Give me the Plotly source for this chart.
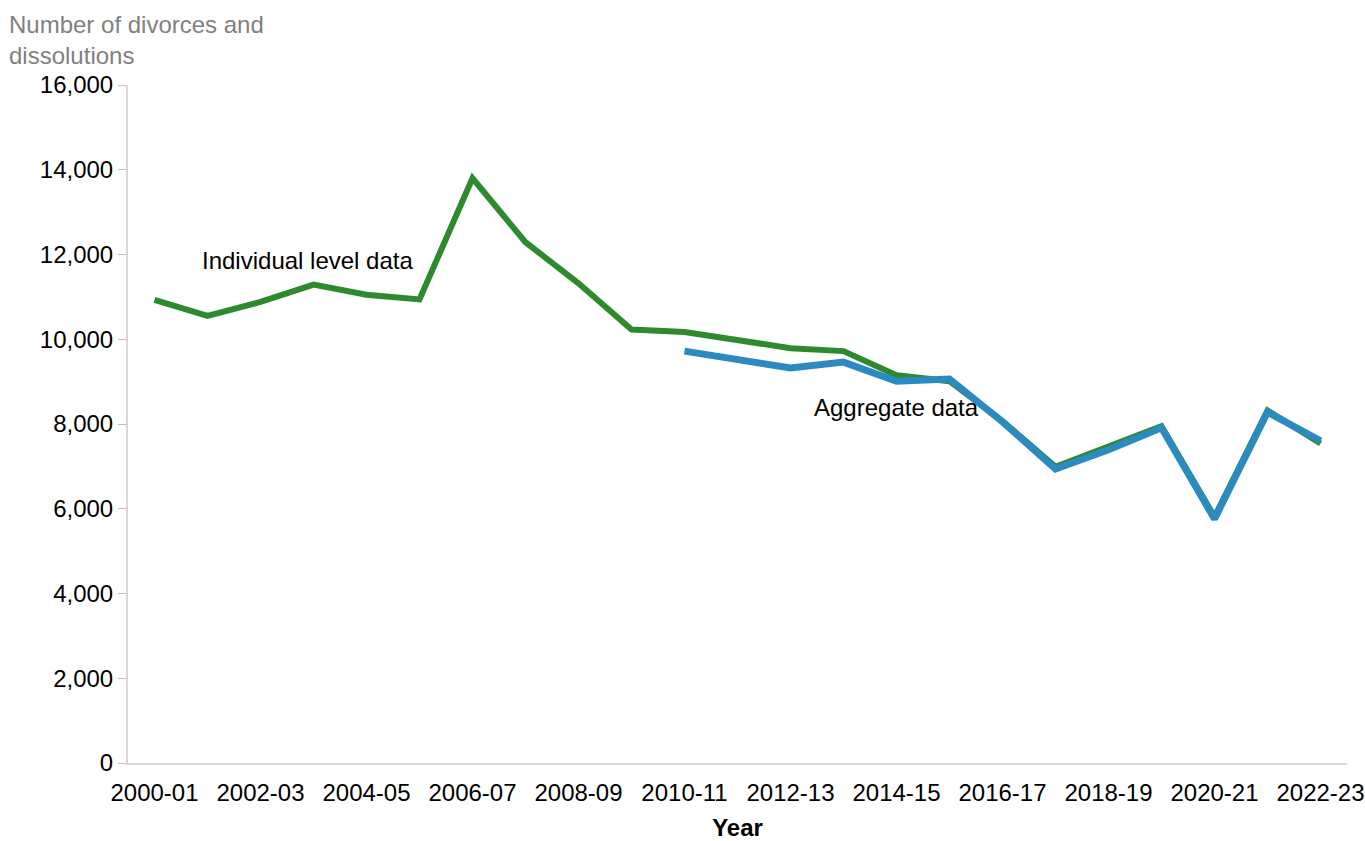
import plotly.graph_objects as go

years = ["2000-01", "2001-02", "2002-03", "2003-04", "2004-05", "2005-06",
         "2006-07", "2007-08", "2008-09", "2009-10", "2010-11", "2011-12",
         "2012-13", "2013-14", "2014-15", "2015-16", "2016-17", "2017-18",
         "2018-19", "2019-20", "2020-21", "2021-22", "2022-23"]

individual = [10930, 10550, 10880, 11290, 11050, 10940, 13800, 12290, 11320,
              10230, 10170, 9980, 9790, 9720, 9150, 9010, 8070, 6990, 7460,
              7950, 5810, 8320, 7540]

agg_years = years[10:]
aggregate = [9720, 9530, 9320, 9460, 9010, 9060, 8050, 6940, 7390, 7910,
             5760, 8280, 7600]

green = '#2D8A2D'
blue = '#2B8BC0'
font_name = "Liberation Sans, Arial, sans-serif"

fig = go.Figure()
fig.add_trace(go.Scatter(x=years, y=individual, mode="lines",
                         name="Individual level data",
                         line={'color': green, 'width': 6}))
fig.add_trace(go.Scatter(x=agg_years, y=aggregate, mode="lines",
                         name="Aggregate data",
                         line={'color': blue, 'width': 7}))

fig.add_annotation(x=2.88, y=11850, text="Individual level data",
                   showarrow=False, font={'size': 24, 'color': 'black'})
fig.add_annotation(x=14.0, y=8380, text="Aggregate data",
                   showarrow=False, font={'size': 24, 'color': 'black'})

fig.add_annotation(xref="paper", yref="paper", x=-0.099, y=1.112,
                   xanchor="left", yanchor="top", align="left",
                   text="Number of divorces and<br>dissolutions",
                   showarrow=False, font={'size': 24, 'color': '#808080'})

fig.update_xaxes(type="category", range=[-0.5, 22.5], tickvals=years[::2],
                 ticks="", automargin=False,
                 showline=True, linecolor="#d9d9d9", linewidth=2,
                 showgrid=False, tickfont={'size': 24, 'color': 'black'},
                 title_text="<b>Year</b>", title_font={'size': 24, 'color': 'black'},
                 title_standoff=19, ticklabelstandoff=7)
fig.update_yaxes(range=[0, 16000], dtick=2000, tickformat=",",
                 ticks="outside", ticklen=8, tickcolor="#bfbfbf",
                 showline=True, linecolor="#d9d9d9", linewidth=2,
                 showgrid=False, zeroline=False, automargin=False,
                 tickfont={'size': 24, 'color': 'black'})

fig.update_layout(width=1365, height=841, showlegend=False,
                  plot_bgcolor="white", paper_bgcolor="white",
                  font={'family': font_name},
                  margin={'l': 128, 'r': 18, 't': 85, 'b': 78})

# drop the default 8px body margin so the figure fills the window
fig.write_html("out.html", config={'displayModeBar': False},
               post_script="document.body.style.margin='0';")
